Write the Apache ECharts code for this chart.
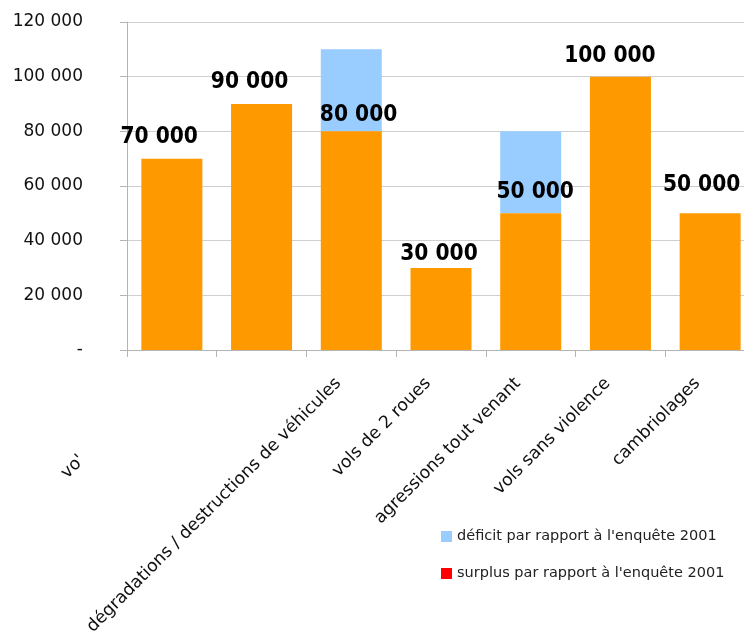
<!DOCTYPE html>
<html>
<head>
<meta charset="utf-8">
<script src="https://cdn.jsdelivr.net/npm/echarts@6/dist/echarts.min.js"></script>
<style>
html,body{margin:0;padding:0;background:#fff;overflow:hidden;}
#chart{width:780px;height:634px;}
</style>
</head>
<body>
<div id="chart"></div>
<script>
// ---- data ----
const categories = ["vo'", "", "dégradations / destructions de véhicules", "vols de 2 roues", "agressions tout venant", "vols sans violence", "cambriolages"];
const baseValues = [70000, 90000, 80000, 30000, 50000, 100000, 50000];
const deficitValues = [0, 0, 30000, 0, 30000, 0, 0];
const surplusValues = [0, 0, 0, 0, 0, 0, 0];
const yTicks = [0, 20000, 40000, 60000, 80000, 100000, 120000];
const seriesNames = ["effectif", "déficit par rapport à l'enquête 2001", "surplus par rapport à l'enquête 2001"];

// ---- label placement (style only) ----
const labelOffsets = [[-12.7, 0], [-12, 0], [7.3, 5.5], [-2, 7.5], [4.5, 0], [-10.5, 0.5], [-8.5, -7]];

const fmt = v => v === 0 ? '-' : String(v).replace(/\B(?=(\d{3})+(?!\d))/g, ' ');

const chart = echarts.init(document.getElementById('chart'), null, {renderer: 'canvas'});
const font = 'DejaVu Sans';
const boldFont = "'DejaVu Sans Condensed', 'DejaVu Sans'";
const option = {
  animation: false,
  backgroundColor: '#ffffff',
  grid: {left: 127, top: 22, width: 628, height: 328, containLabel: false, outerBoundsMode: 'none'},
  legend: {
    orient: 'vertical',
    left: 441, top: 529, padding: 0,
    itemWidth: 11, itemHeight: 11, itemGap: 22,
    icon: 'rect',
    data: [seriesNames[1], seriesNames[2]],
    textStyle: {fontFamily: font, fontSize: 14.5, color: '#222'}
  },
  xAxis: {
    type: 'category',
    data: categories,
    axisLine: {lineStyle: {color: '#b4b4b4', width: 1}},
    axisTick: {show: true, length: 7, lineStyle: {color: '#b4b4b4'}},
    axisLabel: {
      interval: 0, rotate: 45, margin: 18,
      fontFamily: font, fontSize: 17.3, color: '#111',
      formatter: (v, i) => i === 0 ? '{far|' + v + '}' : '{n|' + v + '}',
      rich: {
        far: {fontFamily: font, fontSize: 17.3, color: '#111', padding: [0, 127, 0, 0]},
        n: {fontFamily: font, fontSize: 17.3, color: '#111', padding: [0, 18, 0, 0]}
      }
    }
  },
  yAxis: {
    type: 'value',
    min: yTicks[0], max: yTicks[yTicks.length - 1], interval: yTicks[1] - yTicks[0],
    axisLine: {show: true, lineStyle: {color: '#b4b4b4'}},
    axisTick: {show: true, length: 7, lineStyle: {color: '#b4b4b4'}},
    splitLine: {lineStyle: {color: '#cfcfcf', width: 1}},
    axisLabel: {
      margin: 44, fontFamily: font, fontSize: 17, color: '#111',
      formatter: fmt
    }
  },
  series: [
    {
      name: seriesNames[0], type: 'bar', stack: 's', barWidth: 61,
      itemStyle: {color: '#FF9900'},
      data: baseValues.map((v, i) => ({
        value: v,
        label: {offset: labelOffsets[i]}
      })),
      label: {
        show: true, position: 'top', distance: 10,
        fontFamily: boldFont, fontSize: 22.5, fontWeight: 'bold', color: '#000',
        formatter: p => fmt(p.value)
      },
      z: 2
    },
    {
      name: seriesNames[1], type: 'bar', stack: 's', barWidth: 61,
      itemStyle: {color: '#99CCFF'},
      data: deficitValues, z: 1
    },
    {
      name: seriesNames[2], type: 'bar', stack: 's', barWidth: 61,
      itemStyle: {color: '#FF0000'},
      data: surplusValues, z: 1
    }
  ]
};
chart.setOption(option);
</script>
</body>
</html>
